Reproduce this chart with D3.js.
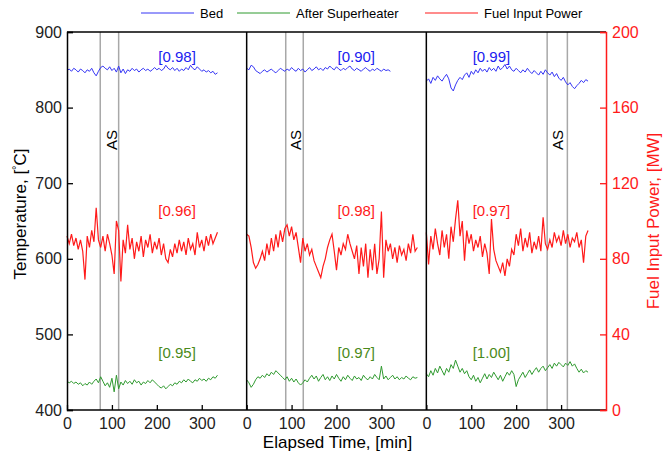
<!DOCTYPE html>
<meta charset="utf-8">
<div id="chart"></div>
<script src="https://d3js.org/d3.v7.min.js"></script>
<style type="text/css">
body { margin: 0; background: #fff; }
text { font-family: "Liberation Sans", Arial, sans-serif; }
.bed { fill: none; stroke: #3535f5; stroke-width: 1; }
.sh { fill: none; stroke: #2f9a2f; stroke-width: 1; }
.fuel { fill: none; stroke: #ff1a1a; stroke-width: 1.2; }
.as-line { stroke: #a8a8a8; stroke-width: 1.5; }
</style>
<script>

// sampling step, minutes
var step = 5;

// panel 1 (0-335 min)
var p1Bed = [849, 851, 848, 852, 850, 847, 851, 849, 846, 850,
  848, 852, 846, 842, 848, 853, 855, 852, 850, 854,
  849, 852, 847, 855, 846, 851, 845, 850, 848, 852,
  849, 851, 847, 850, 852, 849, 851, 848, 850, 853,
  850, 852, 849, 851, 856, 852, 850, 853, 849, 852,
  848, 851, 849, 853, 850, 856, 852, 850, 854, 851,
  848, 850, 847, 849, 846, 848, 844, 846];
var p1Sh = [438, 436, 438, 435, 437, 434, 436, 432, 435, 433,
  437, 434, 438, 441, 436, 444, 438, 432, 436, 430,
  442, 424, 446, 428, 437, 433, 439, 435, 438, 434,
  440, 436, 438, 433, 437, 435, 439, 436, 440, 437,
  434, 431, 429, 432, 428, 431, 434, 432, 436, 434,
  438, 436, 440, 437, 441, 438, 436, 440, 438, 442,
  439, 441, 438, 442, 440, 444, 442, 446];
var p1Fuel = [92, 88, 93, 87, 91, 85, 90, 84, 69, 92,
  86, 95, 89, 107, 90, 86, 92, 84, 93, 88,
  82, 72, 100, 95, 68, 90, 83, 98, 85, 91,
  80, 89, 84, 92, 81, 90, 86, 93, 83, 89,
  85, 91, 82, 88, 80, 78, 85, 81, 88, 83,
  90, 84, 89, 82, 91, 85, 88, 82, 94, 86,
  90, 84, 92, 87, 93, 88, 91, 94];

// panel 2 (0-380 min)
var p2Bed = [852, 850, 856, 854, 849, 847, 845, 848, 850, 847,
  849, 851, 848, 846, 849, 852, 850, 848, 851, 849,
  853, 850, 848, 852, 849, 851, 847, 850, 853, 849,
  851, 854, 850, 852, 849, 853, 851, 855, 852, 850,
  854, 851, 849, 852, 850, 853, 855, 851, 849, 852,
  850, 848, 851, 853, 850, 848, 851, 849, 852, 850,
  848, 851, 849, 850, 848];
var p2Sh = [440, 436, 430, 434, 440, 444, 442, 446, 443, 448,
  445, 450, 447, 452, 449, 446, 443, 440, 444, 438,
  442, 437, 441, 436, 433, 436, 440, 437, 442, 446,
  441, 445, 438, 443, 447, 440, 444, 439, 445, 441,
  447, 442, 438, 444, 440, 446, 442, 439, 445, 441,
  443, 439, 446, 442, 440, 444, 441, 447, 443, 440,
  458, 441, 445, 440, 443, 446, 441, 444, 440, 443,
  441, 445, 442, 440, 444, 442, 443];
var p2Fuel = [93, 92, 86, 78, 75, 77, 80, 84, 79, 88,
  82, 91, 84, 93, 86, 95, 89, 96, 98, 92,
  97, 90, 94, 86, 78, 91, 84, 88, 82, 85,
  79, 76, 73, 70, 76, 80, 86, 90, 93, 84,
  74, 86, 82, 88, 85, 93, 88, 84, 80, 87,
  72, 86, 76, 88, 70, 85, 74, 88, 72, 80,
  105, 70, 90, 84, 88, 80, 86, 78, 87, 82,
  85, 79, 88, 83, 93, 84, 86];

// panel 3 (0-360 min)
var p3Bed = [835, 838, 832, 840, 836, 842, 838, 835, 840, 844,
  838, 826, 822, 830, 836, 840, 837, 843, 846, 840,
  848, 844, 850, 846, 852, 848, 851, 847, 853, 849,
  852, 848, 855, 850, 853, 857, 851, 855, 850, 848,
  852, 849, 846, 850, 847, 852, 848, 845, 849, 846,
  843, 848, 844, 850, 846, 843, 847, 841, 845, 839,
  836, 840, 834, 830, 833, 828, 825, 829, 832, 836,
  833, 837, 835];
var p3Sh = [448, 444, 452, 446, 455, 449, 458, 452, 446, 455,
  450, 460, 455, 466, 458, 450, 455, 448, 452, 444,
  440, 446, 438, 443, 436, 442, 448, 441, 447, 443,
  450, 445, 440, 446, 438, 444, 450, 446, 452, 447,
  431, 440, 445, 450, 443, 448, 453, 447, 452, 456,
  450, 455, 458, 452, 456, 460, 455, 462, 458, 463,
  460, 457, 462, 459, 464, 458, 461, 455, 450, 454,
  449, 452, 450];
var p3Fuel = [94, 77, 92, 85, 96, 88, 82, 95, 86, 93,
  80, 97, 89, 101, 111, 92, 100, 79, 95, 88,
  93, 84, 90, 86, 92, 81, 88, 83, 72, 101,
  85, 79, 76, 73, 78, 71, 80, 76, 85, 82,
  93, 87, 96, 84, 91, 86, 94, 83, 89, 85,
  92, 84, 102, 88, 85, 90, 86, 94, 89, 92,
  87, 95, 88, 93, 86, 91, 89, 94, 86, 90,
  78, 92, 95];

// air staging (AS) start/end per panel, minutes
var asTimes = [[74, 115], [87, 126], [269, 314]];
var asLabelT = [98, 107, 290];
// correlation labels
var corrBed = ["[0.98]", "[0.90]", "[0.99]"];
var corrSh = ["[0.95]", "[0.97]", "[1.00]"];
var corrFuel = ["[0.96]", "[0.98]", "[0.97]"];
var corrT = [245, 244, 145];

var xTicks = [0, 100, 200, 300];
var tempTicks = [400, 500, 600, 700, 800, 900];
var powerTicks = [0, 40, 80, 120, 160, 200];

var panels = [
  {bed: p1Bed, sh: p1Sh, fuel: p1Fuel},
  {bed: p2Bed, sh: p2Sh, fuel: p2Fuel},
  {bed: p3Bed, sh: p3Sh, fuel: p3Fuel}
];

var W = 663, H = 460;
var margin = {top: 32, right: 57, bottom: 50, left: 67};
var width = W - margin.left - margin.right;
var height = H - margin.top - margin.bottom;
var pw = width / 3;

var svg = d3.select("#chart").append("svg").attr("width", W).attr("height", H);
var g = svg.append("g").attr("transform", "translate(" + margin.left + "," + margin.top + ")");

var yT = d3.scaleLinear().domain([400, 900]).range([height, 0]);
var yP = d3.scaleLinear().domain([0, 200]).range([height, 0]);

panels.forEach(function(p, i) {
  var x = d3.scaleLinear().domain([0, 400]).range([i * pw, (i + 1) * pw]);
  var pg = g.append("g");

  // AS markers
  asTimes[i].forEach(function(t) {
    pg.append("line").attr("class", "as-line")
      .attr("x1", x(t)).attr("x2", x(t)).attr("y1", 0).attr("y2", height);
  });
  pg.append("text")
    .attr("transform", "translate(" + (x(asLabelT[i]) + 6) + "," + yT(757) + ") rotate(-90)")
    .attr("text-anchor", "middle")
    .style("font-size", "15px")
    .text("AS");

  var lineT = d3.line().x(function(d, k) { return x(k * step); }).y(function(d) { return yT(d); });
  var lineP = d3.line().x(function(d, k) { return x(k * step); }).y(function(d) { return yP(d); });

  pg.append("path").datum(p.bed).attr("class", "bed").attr("d", lineT);
  pg.append("path").datum(p.sh).attr("class", "sh").attr("d", lineT);
  pg.append("path").datum(p.fuel).attr("class", "fuel").attr("d", lineP);

  pg.append("text").attr("x", x(corrT[i])).attr("y", yT(860)).attr("text-anchor", "middle")
    .style("font-size", "15px").style("fill", "#2020f0").text(corrBed[i]);
  pg.append("text").attr("x", x(corrT[i])).attr("y", yT(657)).attr("text-anchor", "middle")
    .style("font-size", "15px").style("fill", "#ff1a1a").text(corrFuel[i]);
  pg.append("text").attr("x", x(corrT[i])).attr("y", yT(469)).attr("text-anchor", "middle")
    .style("font-size", "15px").style("fill", "#4a8a1a").text(corrSh[i]);

  // bottom axis per panel
  var ax = pg.append("g").attr("transform", "translate(0," + height + ")")
    .call(d3.axisBottom(x).tickValues(xTicks).tickSize(-5).tickPadding(8));
  ax.select(".domain").remove();
  ax.selectAll("line").attr("stroke", "#000").attr("stroke-width", 1.3);
  ax.selectAll("text").style("font-size", "16px").attr("fill", "#222");

  // panel divider
  if (i > 0) {
    pg.append("line").attr("x1", i * pw).attr("x2", i * pw).attr("y1", 0).attr("y2", height)
      .attr("stroke", "#000").attr("stroke-width", 1.5);
  }
});

// frame
g.append("line").attr("x1", 0).attr("x2", width).attr("y1", 0).attr("y2", 0).attr("stroke", "#000").attr("stroke-width", 1.5);
g.append("line").attr("x1", 0).attr("x2", width).attr("y1", height).attr("y2", height).attr("stroke", "#000").attr("stroke-width", 1.5);

var axL = g.append("g").call(d3.axisLeft(yT).tickValues(tempTicks).tickSize(-6).tickPadding(5));
axL.select(".domain").attr("stroke", "#000").attr("stroke-width", 1.5);
axL.selectAll("line").attr("stroke", "#000").attr("stroke-width", 1.3);
axL.selectAll("text").style("font-size", "16px").attr("fill", "#222");

var axR = g.append("g").attr("transform", "translate(" + width + ",0)")
  .call(d3.axisRight(yP).tickValues(powerTicks).tickSize(-6).tickPadding(6));
axR.select(".domain").attr("stroke", "#ff1a1a").attr("stroke-width", 1.5);
axR.selectAll("line").attr("stroke", "#ff1a1a").attr("stroke-width", 1.3);
axR.selectAll("text").style("font-size", "16px").attr("fill", "#ff1a1a");

// axis titles
g.append("text").attr("x", width / 2 + 1).attr("y", height + 38).attr("text-anchor", "middle")
  .style("font-size", "17px").text("Elapsed Time, [min]");

var tl = svg.append("text")
  .attr("transform", "translate(26," + (margin.top + 182) + ") rotate(-90)")
  .attr("text-anchor", "middle").style("font-size", "17px");
tl.append("tspan").text("Temperature, [");
tl.append("tspan").attr("dy", -6).style("font-size", "11px").text("°");
tl.append("tspan").attr("dy", 6).text("C]");

svg.append("text")
  .attr("transform", "translate(659," + (margin.top + 189) + ") rotate(-90)")
  .attr("text-anchor", "middle").style("font-size", "17px").style("fill", "#ff1a1a")
  .text("Fuel Input Power, [MW]");

// legend
var legend = [
  {name: "Bed", cls: "bed", x: 141},
  {name: "After Superheater", cls: "sh", x: 237},
  {name: "Fuel Input Power", cls: "fuel", x: 425}
];
var lg = svg.append("g").attr("transform", "translate(0,13)");
legend.forEach(function(d) {
  lg.append("line").attr("class", d.cls).attr("x1", d.x).attr("x2", d.x + 53).attr("y1", 0).attr("y2", 0);
  lg.append("text").attr("x", d.x + 59).attr("y", 5).style("font-size", "13px").text(d.name);
});
</script>
